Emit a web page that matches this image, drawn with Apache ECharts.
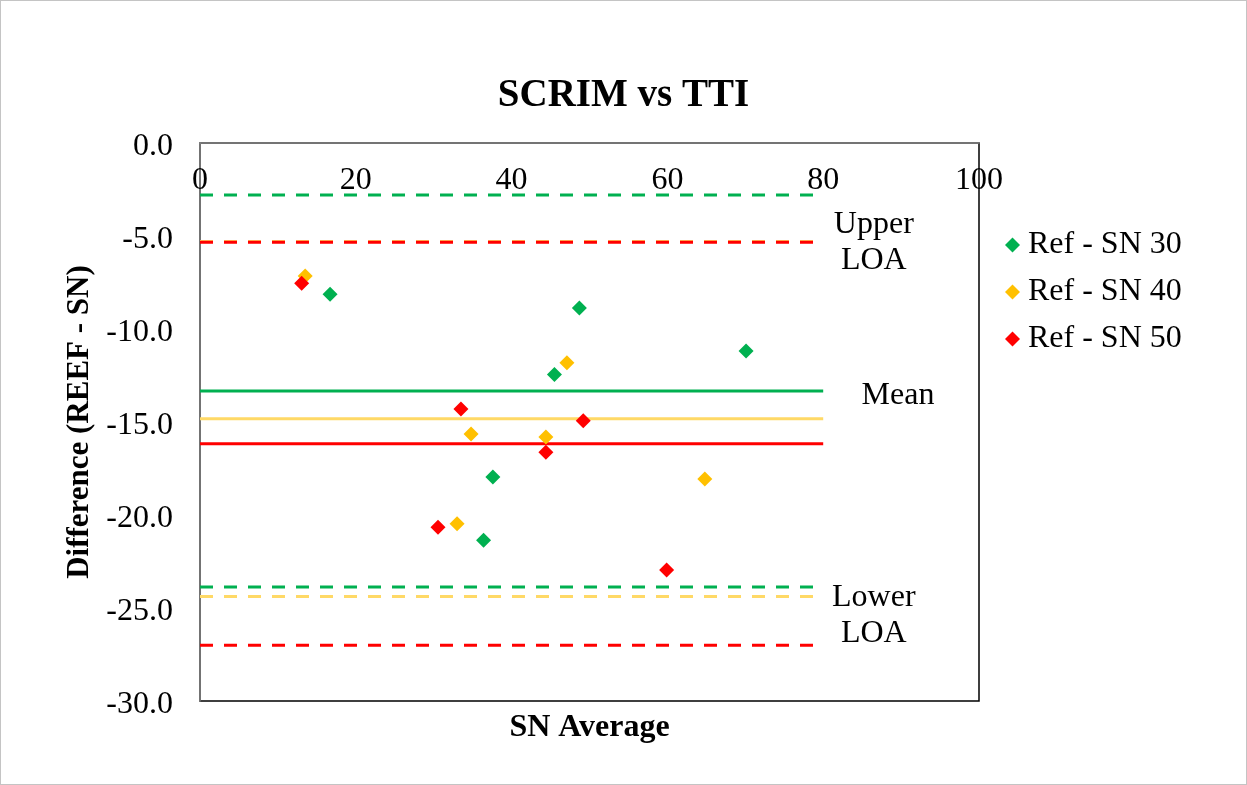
<!DOCTYPE html>
<html>
<head>
<meta charset="utf-8">
<script src="https://cdn.jsdelivr.net/npm/echarts@6/dist/echarts.min.js"></script>
<style>
  html, body { margin: 0; padding: 0; background: #fff; }
  #chart { position: absolute; left: 0; top: 0; width: 1247px; height: 785px; }
  #frame { position: absolute; left: 0; top: 0; width: 1245px; height: 783px; border: 1px solid #c4c4c4; pointer-events: none; }
</style>
</head>
<body>
<div id="chart"></div>
<div id="frame"></div>
<script>
// Bland-Altman style comparison: SN average vs difference (REEF - SN)
const seriesNames = ['Ref - SN 30', 'Ref - SN 40', 'Ref - SN 50'];
const markerColors = ['#00B050', '#FFC000', '#FF0000'];
const lineColors = ['#00B050', '#FFD966', '#FF0000'];

const sn30 = [[16.7, -8.13], [48.7, -8.87], [70.1, -11.18], [45.5, -12.44], [37.6, -17.96], [36.4, -21.36]];
const sn40 = [[13.5, -7.15], [47.1, -11.81], [34.8, -15.65], [44.4, -15.80], [64.8, -18.06], [33.0, -20.47]];
const sn50 = [[13.05, -7.54], [33.5, -14.30], [49.2, -14.93], [44.4, -16.63], [30.55, -20.66], [59.9, -22.96]];

// mean and limits of agreement per series
const meanDiff = [-13.33, -14.82, -16.17];
const upperLOA = [-2.8, -5.3, -5.34];
const lowerLOA = [-23.87, -24.38, -27.0];
const lineExtent = [0, 80];

const xTicks = { min: 0, max: 100, interval: 20 };
const yTicks = { min: -30, max: 0, interval: 5 };

const annotations = [
  { text: 'Upper\nLOA', x: 86.5, y: -5.35 },
  { text: 'Mean', x: 89.6, y: -13.6 },
  { text: 'Lower\nLOA', x: 86.5, y: -25.4 }
];

const serif = 'Liberation Serif, Times New Roman, serif';
const pointSets = [sn30, sn40, sn50];

function hLine(value, color, dashed) {
  return {
    type: 'line',
    data: [[lineExtent[0], value], [lineExtent[1], value]],
    symbol: 'none',
    silent: true,
    z: 1,
    lineStyle: { color: color, width: 3, type: dashed ? [13, 11] : 'solid' }
  };
}

const series = [];
// limit lines (yellow first so red sits over it where they coincide)
[1, 0, 2].forEach(i => {
  series.push(hLine(upperLOA[i], lineColors[i], true));
  series.push(hLine(lowerLOA[i], lineColors[i], true));
  series.push(hLine(meanDiff[i], lineColors[i], false));
});
pointSets.forEach((pts, i) => {
  series.push({
    name: seriesNames[i],
    type: 'scatter',
    data: pts,
    symbol: 'diamond',
    symbolSize: 15,
    z: 5,
    itemStyle: { color: markerColors[i], opacity: 1 }
  });
});
series.push({
  type: 'scatter',
  data: annotations.map(a => ({ value: [a.x, a.y], name: a.text })),
  symbolSize: 0,
  silent: true,
  itemStyle: { opacity: 1 },
  label: {
    show: true,
    position: 'inside',
    formatter: p => p.name,
    fontFamily: serif,
    fontSize: 32,
    lineHeight: 36,
    color: '#000',
    opacity: 1,
    align: 'center'
  }
});

const chart = echarts.init(document.getElementById('chart'));
chart.setOption({
  backgroundColor: '#fff',
  animation: false,
  title: {
    text: 'SCRIM vs TTI',
    left: 'center',
    top: 71,
    textStyle: { fontFamily: serif, fontSize: 39, fontWeight: 'bold', color: '#000' }
  },
  legend: {
    data: seriesNames,
    orient: 'vertical',
    left: 1000,
    top: 224,
    icon: 'diamond',
    itemWidth: 15,
    itemHeight: 15,
    itemGap: 15,
    itemStyle: { opacity: 1 },
    textStyle: { fontFamily: serif, fontSize: 32, color: '#000', padding: [0, 0, 0, 3] }
  },
  grid: {
    left: 200, top: 143, right: 268, bottom: 84,
    containLabel: false,
    show: true,
    borderColor: '#000',
    borderWidth: 1.5
  },
  xAxis: [{
    type: 'value',
    position: 'top',
    min: xTicks.min, max: xTicks.max, interval: xTicks.interval,
    axisLine: { show: true, lineStyle: { color: '#868686', width: 1.5 } },
    axisTick: { show: false },
    splitLine: { show: false },
    axisLabel: { inside: true, margin: 22, fontFamily: serif, fontSize: 32, color: '#000' }
  }, {
    type: 'value',
    position: 'bottom',
    min: xTicks.min, max: xTicks.max,
    name: 'SN Average',
    nameLocation: 'middle',
    nameGap: 11,
    nameTextStyle: { fontFamily: serif, fontSize: 32, fontWeight: 'bold', color: '#000' },
    axisLine: { show: false },
    axisTick: { show: false },
    axisLabel: { show: false },
    splitLine: { show: false }
  }],
  yAxis: {
    type: 'value',
    min: yTicks.min, max: yTicks.max, interval: yTicks.interval,
    name: 'Difference (REEF - SN)',
    nameLocation: 'middle',
    nameGap: 104,
    nameTextStyle: { fontFamily: serif, fontSize: 31, fontWeight: 'bold', color: '#000' },
    axisLine: { show: true, lineStyle: { color: '#868686', width: 1.5 } },
    axisTick: { show: false },
    splitLine: { show: false },
    axisLabel: {
      margin: 27,
      verticalAlign: 'top',
      lineHeight: 8,
      fontFamily: serif,
      fontSize: 32,
      color: '#000',
      formatter: v => v.toFixed(1)
    }
  },
  series: series
});
</script>
</body>
</html>
